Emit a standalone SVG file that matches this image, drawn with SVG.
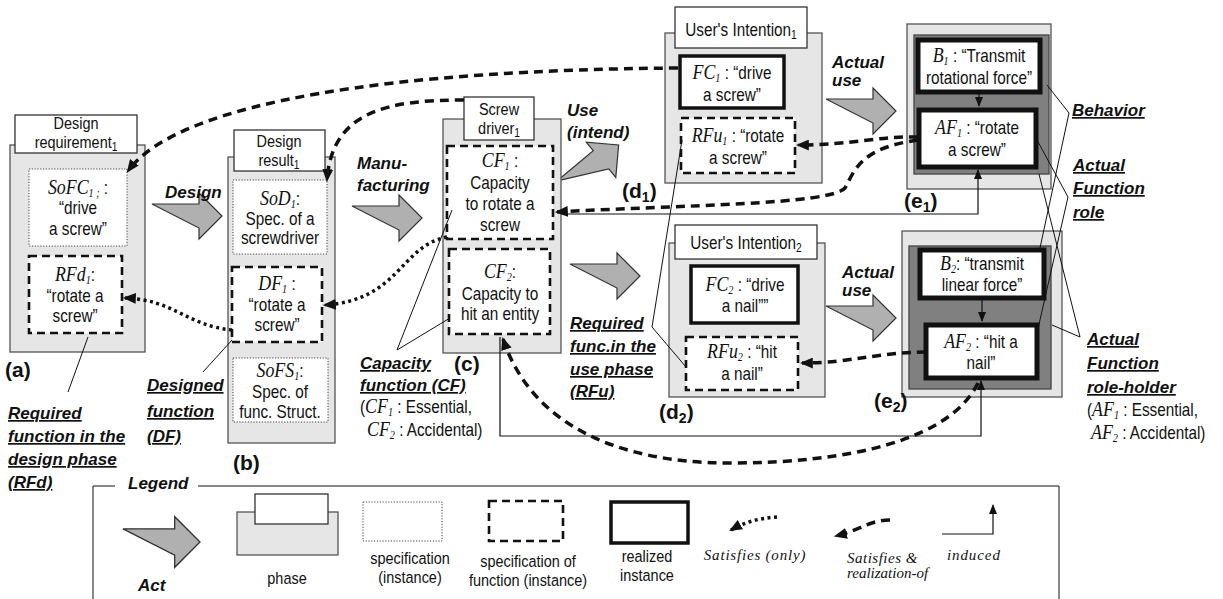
<svg xmlns="http://www.w3.org/2000/svg" width="1223" height="599" viewBox="0 0 1223 599">
<defs>
<style>
.ph{fill:#e6e6e6;stroke:#555;stroke-width:1.3}
.tab{fill:#fff;stroke:#333;stroke-width:1.3}
.spec{fill:#fff;stroke:#444;stroke-width:1;stroke-dasharray:1.2,1.6}
.fn{fill:#fff;stroke:#111;stroke-width:2.6;stroke-dasharray:8,5}
.real{fill:#fff;stroke:#111;stroke-width:3.5}
.realb{fill:#fff;stroke:#111;stroke-width:5}
.eo{fill:#e6e6e6;stroke:#555;stroke-width:1.3}
.ed{fill:#808080;stroke:#444;stroke-width:1.3}
.act{fill:#b0b0b0;stroke:#333;stroke-width:1.2}
text{font-family:"Liberation Sans",Arial,sans-serif;font-size:18px;fill:#111}
.c{text-anchor:middle}
.m{font-family:"Liberation Serif","Times New Roman",serif;font-style:italic;font-size:21px}
.s{font-size:12px}
.sm{font-size:17px}
.lb{font-weight:bold;font-style:italic;font-size:17px}
.u{text-decoration:underline}
.id{font-weight:bold;font-size:21px}
.lt{font-family:"Liberation Serif","Times New Roman",serif;font-style:italic;font-size:15px}
.sat{fill:none;stroke:#111;stroke-width:3.5;stroke-dasharray:9,6}
.sto{fill:none;stroke:#111;stroke-width:3.5;stroke-dasharray:3,3.5}
.ind{fill:none;stroke:#111;stroke-width:1.2}
.ld{fill:none;stroke:#111;stroke-width:1}
</style>
<marker id="ah" markerUnits="userSpaceOnUse" viewBox="0 0 12 10" refX="10" refY="5" markerWidth="13" markerHeight="11" orient="auto"><path d="M0,0 L12,5 L0,10 Z" fill="#111"/></marker>
<marker id="as" markerUnits="userSpaceOnUse" viewBox="0 0 10 8" refX="9" refY="4" markerWidth="10" markerHeight="9" orient="auto"><path d="M0,0 L10,4 L0,8 Z" fill="#111"/></marker>
<path id="blk" d="M0,-12 H47 V-23 L70,0 L47,23 V12 Z"/>
</defs>

<!-- Act arrows -->
<g id="acts">
<use href="#blk" class="act" transform="translate(152,216)"/>
<use href="#blk" class="act" transform="translate(352,218)"/>
<use href="#blk" class="act" transform="translate(565,190) rotate(-40)"/>
<use href="#blk" class="act" transform="translate(570,276)"/>
<use href="#blk" class="act" transform="translate(826,111)"/>
<use href="#blk" class="act" transform="translate(826,318)"/>
<text x="165" y="198" class="lb">Design</text>
<text x="357" y="169" class="lb">Manu-</text>
<text x="357" y="191" class="lb">facturing</text>
<text x="567" y="116" class="lb">Use</text>
<text x="567" y="138" class="lb">(intend)</text>
<text x="832" y="68" class="lb">Actual</text>
<text x="832" y="86" class="lb">use</text>
<text x="842" y="278" class="lb">Actual</text>
<text x="842" y="296" class="lb">use</text>
</g>

<!-- (a) Design requirement -->
<g id="phase-a">
<rect x="10" y="145" width="135" height="207" class="ph"/>
<rect x="15" y="115" width="122" height="38" class="tab"/>
<text transform="translate(76,129) scale(.85,1)" class="c sm">Design</text>
<text transform="translate(76,148) scale(.85,1)" class="c sm">requirement<tspan class="s" dy="3">1</tspan></text>
<rect x="29" y="169" width="98" height="77" class="spec"/>
<text transform="translate(78,194) scale(.85,1)" class="c"><tspan class="m">SoFC</tspan><tspan class="m s" dy="3">1 ;</tspan><tspan dy="-3"> :</tspan></text>
<text transform="translate(78,214) scale(.85,1)" class="c">“drive</text>
<text transform="translate(78,235) scale(.85,1)" class="c">a screw”</text>
<rect x="29" y="256" width="93" height="77" class="fn"/>
<text transform="translate(75,281) scale(.85,1)" class="c"><tspan class="m">RFd</tspan><tspan class="m s" dy="3">1</tspan><tspan dy="-3">:</tspan></text>
<text transform="translate(75,302) scale(.85,1)" class="c">“rotate a</text>
<text transform="translate(75,322) scale(.85,1)" class="c">screw”</text>
<text x="5" y="377" class="id">(a)</text>
</g>

<!-- (b) Design result -->
<g id="phase-b">
<rect x="228" y="157" width="107" height="286" class="ph"/>
<rect x="234" y="130" width="91" height="41" class="tab"/>
<text transform="translate(279,147) scale(.85,1)" class="c sm">Design</text>
<text transform="translate(279,166) scale(.85,1)" class="c sm">result<tspan class="s" dy="3">1</tspan></text>
<rect x="233" y="180" width="94" height="74" class="spec"/>
<text transform="translate(280,205) scale(.85,1)" class="c"><tspan class="m">SoD</tspan><tspan class="m s" dy="3">1</tspan><tspan dy="-3">:</tspan></text>
<text transform="translate(280,225) scale(.85,1)" class="c">Spec. of a</text>
<text transform="translate(280,244) scale(.85,1)" class="c">screwdriver</text>
<rect x="232" y="267" width="90" height="75" class="fn"/>
<text transform="translate(277,290) scale(.85,1)" class="c"><tspan class="m">DF</tspan><tspan class="m s" dy="3">1</tspan><tspan dy="-3"> :</tspan></text>
<text transform="translate(277,311) scale(.85,1)" class="c">“rotate a</text>
<text transform="translate(277,331) scale(.85,1)" class="c">screw”</text>
<rect x="233" y="358" width="95" height="64" class="spec"/>
<text transform="translate(280,377) scale(.85,1)" class="c"><tspan class="m">SoFS</tspan><tspan class="m s" dy="3">1</tspan><tspan dy="-3">:</tspan></text>
<text transform="translate(280,398) scale(.85,1)" class="c">Spec. of</text>
<text transform="translate(280,418) scale(.85,1)" class="c">func. Struct.</text>
<text x="233" y="470" class="id">(b)</text>
</g>

<!-- (c) Screw driver -->
<g id="phase-c">
<rect x="443" y="119" width="118" height="234" class="ph"/>
<rect x="464" y="97" width="70" height="43" class="tab"/>
<text transform="translate(499,115) scale(.85,1)" class="c sm">Screw</text>
<text transform="translate(499,134) scale(.85,1)" class="c sm">driver<tspan class="s" dy="3">1</tspan></text>
<rect x="447" y="146" width="106" height="93" class="fn"/>
<text transform="translate(500,167) scale(.85,1)" class="c"><tspan class="m">CF</tspan><tspan class="m s" dy="3">1</tspan><tspan dy="-3"> :</tspan></text>
<text transform="translate(500,189) scale(.85,1)" class="c">Capacity</text>
<text transform="translate(500,210) scale(.85,1)" class="c">to rotate a</text>
<text transform="translate(500,231) scale(.85,1)" class="c">screw</text>
<rect x="449" y="249" width="101" height="85" class="fn"/>
<text transform="translate(500,278) scale(.85,1)" class="c"><tspan class="m">CF</tspan><tspan class="m s" dy="3">2</tspan><tspan dy="-3">:</tspan></text>
<text transform="translate(500,300) scale(.85,1)" class="c">Capacity to</text>
<text transform="translate(500,320) scale(.85,1)" class="c">hit an entity</text>
<text x="454" y="371" class="id">(c)</text>
</g>

<!-- (d1) User's Intention 1 -->
<g id="phase-d1">
<rect x="665" y="33" width="157" height="150" class="ph"/>
<rect x="675" y="7" width="132" height="41" class="tab"/>
<text transform="translate(741,36) scale(.85,1)" class="c">User's Intention<tspan class="s" dy="3">1</tspan></text>
<rect x="680" y="56" width="104" height="52" class="real"/>
<text transform="translate(732,79) scale(.85,1)" class="c"><tspan class="m">FC</tspan><tspan class="m s" dy="3">1</tspan><tspan dy="-3"> : “drive</tspan></text>
<text transform="translate(732,101) scale(.85,1)" class="c">a screw”</text>
<rect x="681" y="118" width="114" height="55" class="fn"/>
<text transform="translate(738,142) scale(.85,1)" class="c"><tspan class="m">RFu</tspan><tspan class="m s" dy="3">1</tspan><tspan dy="-3"> : “rotate</tspan></text>
<text transform="translate(738,164) scale(.85,1)" class="c">a screw”</text>
<text x="622" y="198" class="id">(d<tspan font-size="14" dy="4">1</tspan><tspan dy="-4">)</tspan></text>
</g>

<!-- (d2) User's Intention 2 -->
<g id="phase-d2">
<rect x="669" y="243" width="156" height="154" class="ph"/>
<rect x="675" y="225" width="142" height="34" class="tab"/>
<text transform="translate(746,249) scale(.85,1)" class="c">User's Intention<tspan class="s" dy="3">2</tspan></text>
<rect x="691" y="266" width="107" height="57" class="real"/>
<text transform="translate(745,291) scale(.85,1)" class="c"><tspan class="m">FC</tspan><tspan class="m s" dy="3">2</tspan><tspan dy="-3"> : “drive</tspan></text>
<text transform="translate(745,312) scale(.85,1)" class="c">a nail””</text>
<rect x="686" y="337" width="112" height="53" class="fn"/>
<text transform="translate(742,358) scale(.85,1)" class="c"><tspan class="m">RFu</tspan><tspan class="m s" dy="3">2</tspan><tspan dy="-3"> : “hit</tspan></text>
<text transform="translate(742,380) scale(.85,1)" class="c">a nail”</text>
<text x="659" y="419" class="id">(d<tspan font-size="14" dy="4">2</tspan><tspan dy="-4">)</tspan></text>
</g>

<!-- (e1) -->
<g id="phase-e1">
<rect x="907" y="24" width="144" height="165" class="eo"/>
<rect x="914" y="35" width="135" height="139" class="ed"/>
<rect x="918" y="40" width="122" height="52" class="realb"/>
<text transform="translate(979,62) scale(.85,1)" class="c"><tspan class="m">B</tspan><tspan class="m s" dy="3">1</tspan><tspan dy="-3"> : “Transmit</tspan></text>
<text transform="translate(979,84) scale(.85,1)" class="c">rotational force”</text>
<rect x="919" y="110" width="117" height="57" class="realb"/>
<text transform="translate(977,134) scale(.85,1)" class="c"><tspan class="m">AF</tspan><tspan class="m s" dy="3">1</tspan><tspan dy="-3"> : “rotate</tspan></text>
<text transform="translate(977,156) scale(.85,1)" class="c">a screw”</text>
<path d="M979,94 V106" class="ind" marker-end="url(#as)"/>
<text x="904" y="208" class="id">(e<tspan font-size="14" dy="4">1</tspan><tspan dy="-4">)</tspan></text>
</g>

<!-- (e2) -->
<g id="phase-e2">
<rect x="902" y="231" width="160" height="166" class="eo"/>
<rect x="909" y="246" width="142" height="143" class="ed"/>
<rect x="920" y="250" width="124" height="48" class="realb"/>
<text transform="translate(982,270) scale(.85,1)" class="c"><tspan class="m">B</tspan><tspan class="m s" dy="3">2</tspan><tspan dy="-3">: “transmit</tspan></text>
<text transform="translate(982,291) scale(.85,1)" class="c">linear force”</text>
<rect x="926" y="325" width="111" height="53" class="realb"/>
<text transform="translate(981,348) scale(.85,1)" class="c"><tspan class="m">AF</tspan><tspan class="m s" dy="3">2</tspan><tspan dy="-3"> : “hit a</tspan></text>
<text transform="translate(981,369) scale(.85,1)" class="c">nail”</text>
<path d="M982,300 V321" class="ind" marker-end="url(#as)"/>
<text x="874" y="408" class="id">(e<tspan font-size="14" dy="4">2</tspan><tspan dy="-4">)</tspan></text>
</g>

<!-- Annotation labels -->
<g id="labels">
<text x="8" y="419" class="lb u">Required</text>
<text x="8" y="442" class="lb u">function in the</text>
<text x="8" y="465" class="lb u">design phase</text>
<text x="8" y="488" class="lb u">(RFd)</text>
<text x="147" y="391" class="lb u">Designed</text>
<text x="147" y="417" class="lb u">function</text>
<text x="147" y="442" class="lb u">(DF)</text>
<text x="360" y="369" class="lb u">Capacity</text>
<text x="360" y="391" class="lb u">function (CF)</text>
<text transform="translate(360,413) scale(.85,1)">(<tspan class="m">CF</tspan><tspan class="m s" dy="3">1</tspan><tspan dy="-3"> : Essential,</tspan></text>
<text transform="translate(367,436) scale(.85,1)"><tspan class="m">CF</tspan><tspan class="m s" dy="3">2</tspan><tspan dy="-3"> : Accidental)</tspan></text>
<text x="570" y="329" class="lb u">Required</text>
<text x="570" y="352" class="lb u">func.in the</text>
<text x="570" y="375" class="lb u">use phase</text>
<text x="570" y="397" class="lb u">(RFu)</text>
<text x="1072" y="116" class="lb u">Behavior</text>
<text x="1073" y="171" class="lb u">Actual</text>
<text x="1073" y="194" class="lb u">Function</text>
<text x="1073" y="218" class="lb u">role</text>
<text x="1087" y="345" class="lb u">Actual</text>
<text x="1087" y="369" class="lb u">Function</text>
<text x="1087" y="393" class="lb u">role-holder</text>
<text transform="translate(1087,416) scale(.85,1)">(<tspan class="m">AF</tspan><tspan class="m s" dy="3">1</tspan><tspan dy="-3"> : Essential,</tspan></text>
<text transform="translate(1091,439) scale(.85,1)"><tspan class="m">AF</tspan><tspan class="m s" dy="3">2</tspan><tspan dy="-3"> : Accidental)</tspan></text>
</g>

<!-- Connectors -->
<g id="connectors">
<path d="M678,68 C400,70 180,100 128,171" class="sat" marker-end="url(#ah)"/>
<path d="M464,100 C390,100 332,110 327,180" class="sat" marker-end="url(#ah)"/>
<path d="M447,237 C400,246 400,300 325,305" class="sto" marker-end="url(#ah)"/>
<path d="M232,330 C185,325 175,300 125,298" class="sto" marker-end="url(#ah)"/>
<path d="M918,137 C880,136 850,145 798,145" class="sat" marker-end="url(#ah)"/>
<path d="M918,140 C860,148 855,170 845,188 C830,205 680,205 557,212" class="sat" marker-end="url(#ah)"/>
<path d="M926,352 C880,352 850,363 802,363" class="sat" marker-end="url(#ah)"/>
<path d="M978,383 C950,440 850,463 730,463 C610,463 530,420 503,339" class="sat" marker-end="url(#ah)"/>
<path d="M562,214 H978 V170" class="ind" marker-end="url(#as)"/>
<path d="M500,337 V436 H981 V381" class="ind" marker-end="url(#as)"/>
<path d="M88,337 L68,392" class="ld"/>
<path d="M232,340 L203,372" class="ld"/>
<path d="M452,210 L397,350 L450,318" class="ld"/>
<path d="M682,140 L652,327 L686,367" class="ld"/>
<path d="M1047,85 L1069,113 L1040,248" class="ld"/>
<path d="M1037,140 L1068,197 L1037,333" class="ld"/>
<path d="M1039,174 L1080,337 L1052,325" class="ld"/>
</g>

<!-- Legend -->
<g id="legend">
<path d="M115,486 H93 V600 M198,486 H1059 V600" class="ld" stroke="#333" stroke-width="1.3"/>
<text x="128" y="489" class="lb">Legend</text>
<use href="#blk" class="act" transform="translate(123,542) scale(1.1)"/>
<text x="138" y="591" class="lb">Act</text>
<rect x="237" y="512" width="101" height="43" class="ph"/>
<rect x="255" y="494" width="73" height="30" class="tab"/>
<text transform="translate(287,584) scale(.85,1)" class="c sm">phase</text>
<rect x="363" y="502" width="79" height="39" class="spec"/>
<text transform="translate(410,564) scale(.85,1)" class="c sm">specification</text>
<text transform="translate(410,583) scale(.85,1)" class="c sm">(instance)</text>
<rect x="489" y="501" width="74" height="40" class="fn"/>
<text transform="translate(528,567) scale(.85,1)" class="c sm">specification of</text>
<text transform="translate(528,586) scale(.85,1)" class="c sm">function (instance)</text>
<rect x="611" y="502" width="77" height="41" class="real" stroke-width="2.5"/>
<text transform="translate(647,562) scale(.85,1)" class="c sm">realized</text>
<text transform="translate(647,581) scale(.85,1)" class="c sm">instance</text>
<path d="M777,517 C760,518 745,522 731,530" class="sto" stroke-width="3" marker-end="url(#ah)"/>
<text x="755" y="560" class="lt c" letter-spacing="0.8">Satisfies (only)</text>
<path d="M890,520 C870,520 860,530 836,536" class="sat" stroke-width="3" marker-end="url(#ah)"/>
<text x="847" y="563" class="lt" letter-spacing="0.5">Satisfies &amp;</text>
<text x="847" y="578" class="lt">realization-of</text>
<path d="M942,534 H993 V505" class="ind" marker-end="url(#as)"/>
<text x="947" y="560" class="lt" letter-spacing="0.9">induced</text>
</g>
</svg>
